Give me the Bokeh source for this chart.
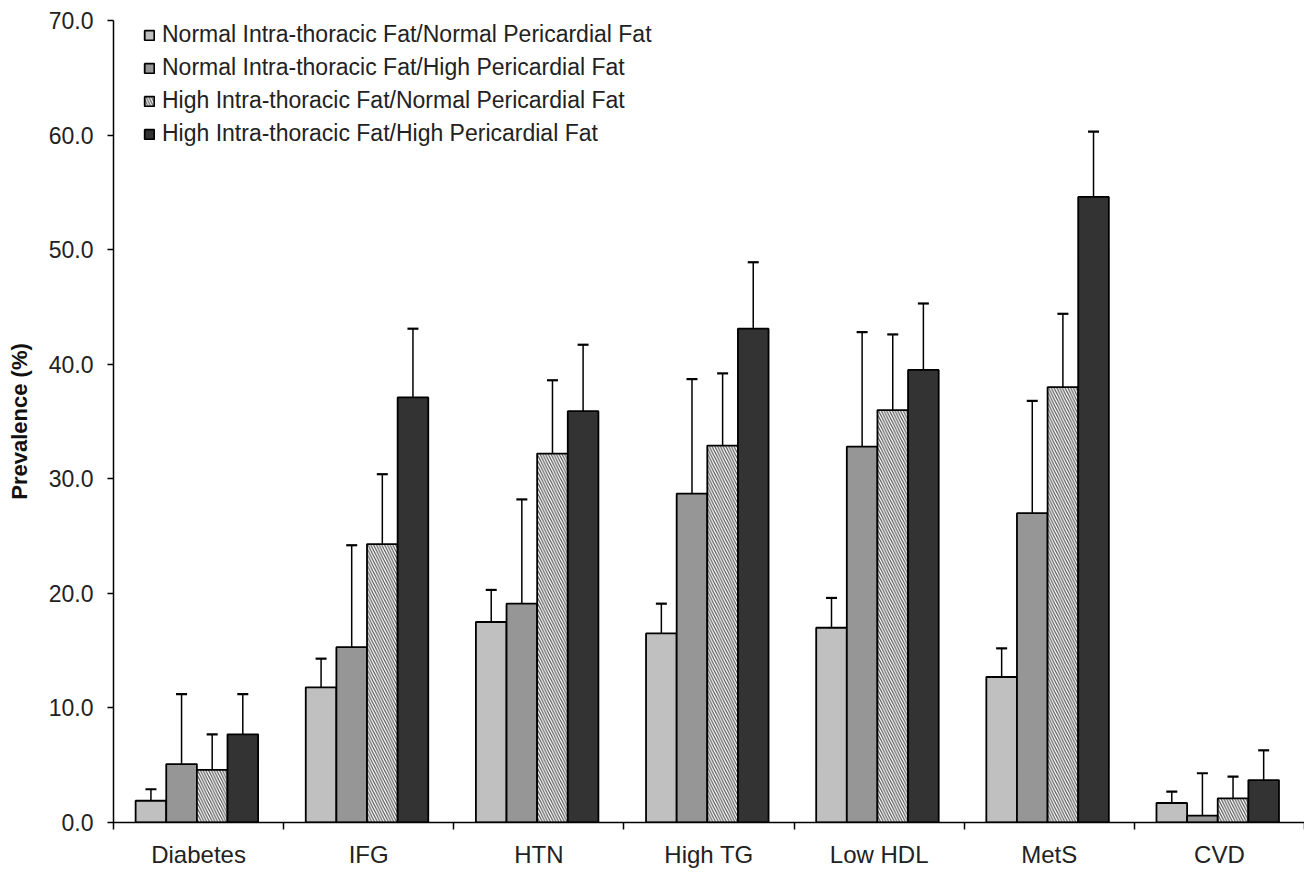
from bokeh.plotting import figure
from bokeh.models import (ColumnDataSource, Range1d, FixedTicker, Legend, LegendItem,
                          Whisker, TeeHead)
from bokeh.embed import file_html
from bokeh.resources import INLINE

categories = ["Diabetes", "IFG", "HTN", "High TG", "Low HDL", "MetS", "CVD"]
series_names = [
    "Normal Intra-thoracic Fat/Normal Pericardial Fat",
    "Normal Intra-thoracic Fat/High Pericardial Fat",
    "High Intra-thoracic Fat/Normal Pericardial Fat",
    "High Intra-thoracic Fat/High Pericardial Fat",
]
# prevalence (%)
s1_values = [1.9, 11.8, 17.5, 16.5, 17.0, 12.7, 1.7]
s2_values = [5.1, 15.3, 19.1, 28.7, 32.8, 27.0, 0.6]
s3_values = [4.6, 24.3, 32.2, 32.9, 36.0, 38.0, 2.1]
s4_values = [7.7, 37.1, 35.9, 43.1, 39.5, 54.6, 3.7]
# upper end of error bars (%)
s1_upper = [2.9, 14.3, 20.3, 19.1, 19.6, 15.2, 2.7]
s2_upper = [11.2, 24.2, 28.2, 38.7, 42.8, 36.8, 4.3]
s3_upper = [7.7, 30.4, 38.6, 39.2, 42.6, 44.4, 4.0]
s4_upper = [11.2, 43.1, 41.7, 48.9, 45.3, 60.3, 6.3]
y_ticks = [0, 10, 20, 30, 40, 50, 60, 70]

values = [s1_values, s2_values, s3_values, s4_values]
uppers = [s1_upper, s2_upper, s3_upper, s4_upper]
fills = ["#c0c0c0", "#969696", "#ffffff", "#333333"]
hatches = [None, None, "left_diagonal_line", None]

p = figure(width=1304, height=870, output_backend="svg", toolbar_location=None,
           x_range=Range1d(0, len(categories)), y_range=Range1d(0, 70),
           min_border_left=113, min_border_right=0, min_border_top=20, min_border_bottom=48)
p.outline_line_color = None
p.xgrid.visible = False
p.ygrid.visible = False
p.background_fill_color = "white"

bar_w = 0.18
offsets = [-0.28, -0.10, 0.08, 0.26]
renderers = []
for k in range(4):
    xs = [i + 0.5 + offsets[k] for i in range(len(categories))]
    src = ColumnDataSource(dict(x=xs, top=values[k], upper=uppers[k]))
    kw = dict(x="x", top="top", bottom=0, width=bar_w, source=src,
              fill_color=fills[k], line_color="black", line_width=1.8)
    if hatches[k]:
        kw.update(hatch_pattern=hatches[k], hatch_color="#555555", hatch_scale=5.5, hatch_weight=1.2)
    r = p.vbar(**kw)
    renderers.append(r)
    w = Whisker(base="x", lower="top", upper="upper", source=src, dimension="height",
                line_color="black", line_width=1.5, lower_head=None,
                upper_head=TeeHead(size=11, line_color="black", line_width=2.2))
    p.add_layout(w)

# y axis
yax = p.yaxis[0]
yax.ticker = FixedTicker(ticks=y_ticks, minor_ticks=[])
yax.major_label_overrides = {t: f"{t:.1f}" for t in y_ticks}
yax.major_tick_in = 0
yax.major_tick_out = 6
yax.major_tick_line_width = 1.5
yax.axis_line_width = 1.5
yax.axis_line_color = "black"
yax.major_label_text_font = "Liberation Sans"
yax.major_label_text_font_size = "23px"
yax.major_label_text_color = "#222222"
yax.major_label_standoff = 14
yax.axis_label = "Prevalence (%)"
yax.axis_label_text_font = "Liberation Sans"
yax.axis_label_text_font_size = "22px"
yax.axis_label_text_font_style = "bold"
yax.axis_label_text_color = "#111111"
yax.axis_label_standoff = 14

# x axis: labels at centers, ticks at boundaries
xax = p.xaxis[0]
centers = [i + 0.5 for i in range(len(categories))]
xax.ticker = FixedTicker(ticks=centers, minor_ticks=list(range(len(categories) + 1)))
xax.major_label_overrides = {c: name for c, name in zip(centers, categories)}
xax.major_tick_in = 0
xax.major_tick_out = 0
xax.minor_tick_in = 0
xax.minor_tick_out = 7
xax.minor_tick_line_color = "black"
xax.minor_tick_line_width = 1.5
xax.axis_line_width = 1.5
xax.axis_line_color = "black"
xax.major_label_text_font = "Liberation Sans"
xax.major_label_text_font_size = "24px"
xax.major_label_text_color = "#222222"
xax.major_label_standoff = 11

legend = Legend(items=[LegendItem(label=series_names[k], renderers=[renderers[k]]) for k in range(4)],
                location=(30, 675), orientation="vertical",
                glyph_width=12, glyph_height=12, label_height=23, spacing=6,
                label_text_font="Liberation Sans", label_text_font_size="23px",
                label_text_color="#222222", label_standoff=7,
                padding=0, margin=0, border_line_color=None, background_fill_alpha=0)
p.add_layout(legend)

open("out.html", "w").write(file_html(p, INLINE))
